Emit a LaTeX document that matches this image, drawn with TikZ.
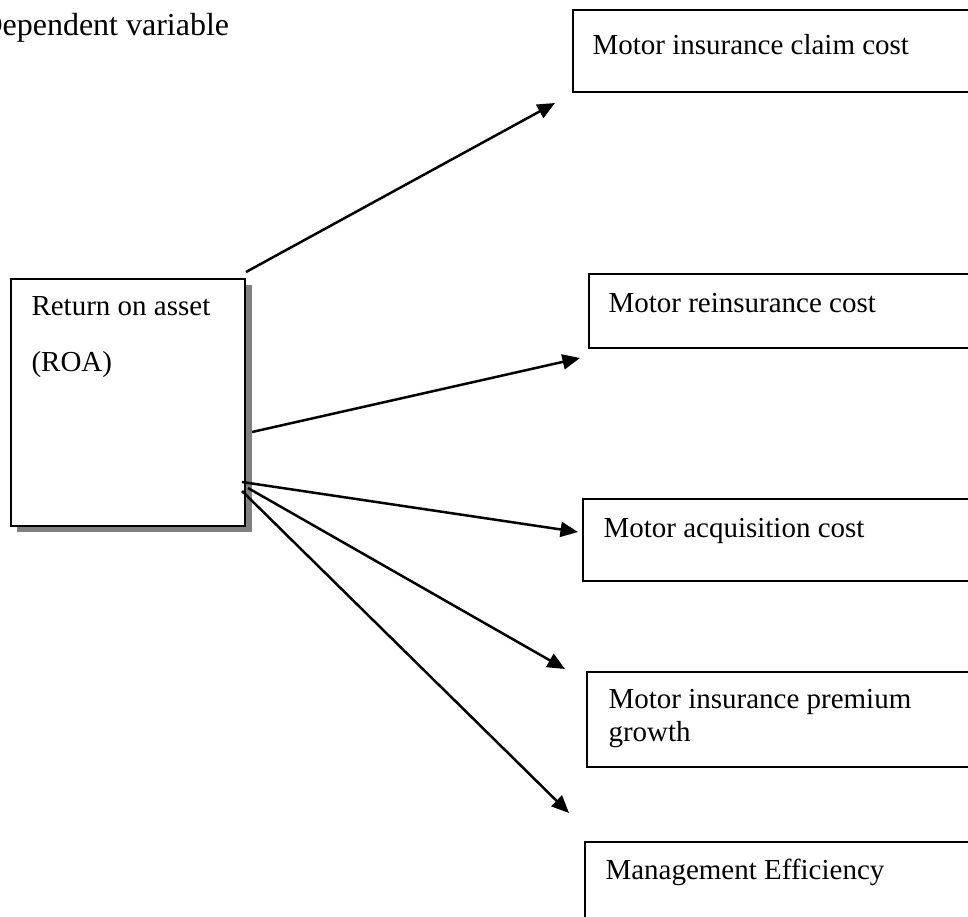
\documentclass[tikz,border=0pt]{standalone}
\usepackage{fontspec}
\setmainfont{Liberation Serif}
\usetikzlibrary{arrows.meta}
\definecolor{shadowgray}{RGB}{128,128,128}
\begin{document}
\begin{tikzpicture}[x=0.4pt,y=-0.4pt,
  boxstyle/.style={draw=black,line width=0.7pt,fill=white,rectangle,inner sep=0pt,anchor=north west},
  lbl/.style={anchor=base west,inner sep=0pt,font=\fontsize{11.6}{13.9}\selectfont},
  conn/.style={line width=1pt,-{Triangle[length=7pt,width=6pt]}}]
\useasboundingbox (0,0) rectangle (968,916);
\clip (0,0) rectangle (968,916);
% title
\node[anchor=base west,inner sep=0pt,font=\fontsize{12.8}{15}\selectfont] (title) at (-21,35) {Dependent variable};
% ROA box with shadow
\fill[shadowgray] (17,285) rectangle (252,532);
\node[boxstyle,minimum width=93.6pt,minimum height=98.8pt] (roa) at (10,278) {};
\node[lbl] (roat1) at (31,315) {Return on asset};
\node[lbl] (roat2) at (31,371) {(ROA)};
% right boxes
\node[boxstyle,minimum width=180pt,minimum height=32.8pt] (b1) at (572,9) {};
\node[lbl] (t1) at (592,54) {Motor insurance claim cost};
\node[boxstyle,minimum width=180pt,minimum height=29.6pt] (b2) at (588,273) {};
\node[lbl] (t2) at (608,312) {Motor reinsurance cost};
\node[boxstyle,minimum width=180pt,minimum height=32.8pt] (b3) at (582,498) {};
\node[lbl] (t3) at (603,537) {Motor acquisition cost};
\node[boxstyle,minimum width=180pt,minimum height=38pt] (b4) at (586,671) {};
\node[lbl] (t4a) at (608,708) {Motor insurance premium};
\node[lbl] (t4b) at (608,741) {growth};
\node[boxstyle,minimum width=180pt,minimum height=60pt] (b5) at (584,841) {};
\node[lbl] (t5) at (605,879) {Management Efficiency};
% connector ends
\coordinate (s1) at (246,272);
\coordinate (e1) at (555,103);
\coordinate (s2) at (252,432);
\coordinate (e2) at (580,358);
\coordinate (s3) at (242,482);
\coordinate (e3) at (578,532);
\coordinate (s4) at (248,488);
\coordinate (e4) at (565,669);
\coordinate (s5) at (242,491);
\coordinate (e5) at (569,813);
\draw[conn] (s1) -- (e1);
\draw[conn] (s2) -- (e2);
\draw[conn] (s3) -- (e3);
\draw[conn] (s4) -- (e4);
\draw[conn] (s5) -- (e5);
\end{tikzpicture}
\end{document}
